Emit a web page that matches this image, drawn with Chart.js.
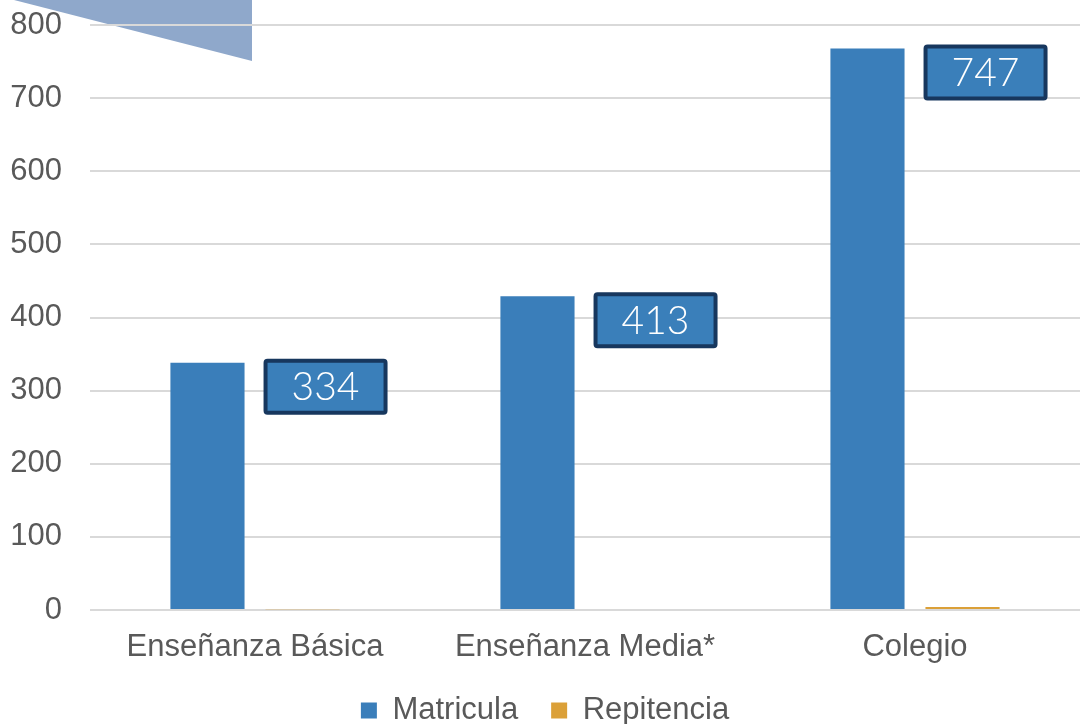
<!DOCTYPE html>
<html>
<head>
<meta charset="utf-8">
<script src="https://cdn.jsdelivr.net/npm/chart.js@4.4.1/dist/chart.umd.min.js"></script>
<style>
  html, body { margin: 0; padding: 0; background: #ffffff; }
  #wrap { width: 1080px; height: 724px; position: relative; }
</style>
</head>
<body>
<div id="wrap"><canvas id="matriculaChart"></canvas></div>
<script>
Chart.defaults.color = '#595959';
Chart.defaults.font.family = '"Liberation Sans", Arial, sans-serif';
Chart.defaults.font.size = 31;

const niveles = ['Enseñanza Básica', 'Enseñanza Media*', 'Colegio'];

const matricula = [338, 429, 768];

const repitencia = [1, 0, 4];

// etiquetas de los recuadros (tal como aparecen en la imagen)
const etiquetasMatricula = ['334', '413', '747'];

const yTicks = [0, 100, 200, 300, 400, 500, 600, 700, 800];

// triangulo decorativo arriba a la izquierda
const decoracion = {
    id: 'decoracion',
    beforeDraw(chart) {
        const ctx = chart.ctx;
        ctx.save();
        ctx.fillStyle = '#8FA8CB';
        ctx.beginPath();
        ctx.moveTo(14, 0);
        ctx.lineTo(252, 0);
        ctx.lineTo(252, 61);
        ctx.closePath();
        ctx.fill();
        ctx.restore();
    }
};

// el eje x es bajo para dejar sitio a la leyenda; que no recorte las etiquetas
const ejeX = {
    id: 'ejeX',
    afterLayout(chart) {
        chart.scales.x.bottom = chart.height;
    }
};

// recuadros con el valor al lado de cada barra
const recuadros = {
    id: 'recuadros',
    afterDatasetsDraw(chart) {
        const ctx = chart.ctx;
        const meta = chart.getDatasetMeta(0);
        ctx.save();
        meta.data.forEach((bar, i) => {
            const w = 120, h = 52;
            const x = bar.x + bar.width / 2 + 21;
            const y = bar.y + 24 - h / 2;
            ctx.beginPath();
            ctx.roundRect(x, y, w, h, 2);
            ctx.fillStyle = '#3A7FBA';
            ctx.fill();
            ctx.lineWidth = 4;
            ctx.strokeStyle = '#17375E';
            ctx.stroke();
            ctx.fillStyle = '#ffffff';
            ctx.font = '300 39px Lato, "Open Sans", sans-serif';
            ctx.textAlign = 'center';
            ctx.textBaseline = 'middle';
            ctx.fillText(etiquetasMatricula[i], x + w / 2, y + h / 2 + 1);
        });
        ctx.restore();
    }
};

new Chart(document.getElementById('matriculaChart'), {
    type: 'bar',
    data: {
        labels: niveles,
        datasets: [
            {
                label: 'Matricula',
                data: matricula,
                backgroundColor: '#3A7EBA',
                borderWidth: 0
            },
            {
                label: 'Repitencia',
                data: repitencia,
                backgroundColor: '#DBA038',
                borderWidth: 0
            }
        ]
    },
    options: {
        responsive: true,
        maintainAspectRatio: false,
        animation: false,
        categoryPercentage: 0.576,
        barPercentage: 0.78,
        layout: {
            padding: { left: 10, right: 0, top: 25, bottom: -12 }
        },
        plugins: {
            legend: {
                position: 'bottom',
                labels: {
                    boxWidth: 16,
                    boxHeight: 16,
                    padding: 33,
                    color: '#595959'
                }
            },
            tooltip: { enabled: false }
        },
        scales: {
            x: {
                grid: { display: false, drawTicks: false },
                border: { display: false },
                ticks: { padding: 24, font: { lineHeight: 0.9 } },
                afterFit(axis) {
                    axis.height = 52;
                }
            },
            y: {
                min: 0,
                max: 800,
                afterBuildTicks(axis) {
                    axis.ticks = yTicks.map(v => ({ value: v }));
                },
                afterFit(axis) {
                    axis.width = 80;
                    axis.paddingTop = 0;
                    axis.paddingBottom = 0;
                },
                grid: { color: '#D9D9D9', lineWidth: 2, drawTicks: false },
                border: { display: false },
                ticks: { padding: 28 }
            }
        }
    },
    plugins: [decoracion, ejeX, recuadros]
});
</script>
</body>
</html>
